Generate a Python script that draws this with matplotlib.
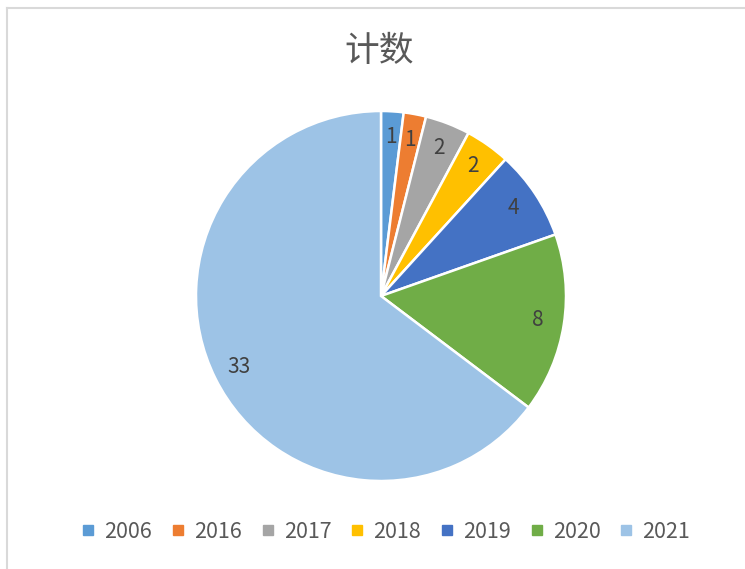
import matplotlib
matplotlib.use("Agg")
import matplotlib.pyplot as plt
from matplotlib.lines import Line2D

plt.rcParams['font.family'] = ['Noto Sans CJK SC', 'DejaVu Sans']

categories = ['2006', '2016', '2017', '2018', '2019', '2020', '2021']
counts = [1, 1, 2, 2, 4, 8, 33]
colors = ['#5B9BD5', '#ED7D31', '#A5A5A5', '#FFC000', '#4472C4', '#70AD47', '#9DC3E6']
title = '计数'

W, H = 745, 569
fig = plt.figure(figsize=(W / 100, H / 100), dpi=100)
fig.patch.set_facecolor('white')

# frame lines (left and top)
fig.add_artist(Line2D([7.5 / W, 7.5 / W], [0, 1 - 7.5 / H], transform=fig.transFigure,
                      color='#D9D9D9', lw=1.5))
fig.add_artist(Line2D([7.5 / W, 1], [1 - 7.5 / H, 1 - 7.5 / H], transform=fig.transFigure,
                      color='#D9D9D9', lw=1.5))

cx, cy, r = 381, 296, 185
ax = fig.add_axes([(cx - r) / W, (H - cy - r) / H, 2 * r / W, 2 * r / H])
total = sum(counts)
wedges, texts, autotexts = ax.pie(
    counts, colors=colors, startangle=90, counterclock=False,
    autopct=lambda p: f'{round(p * total / 100):d}', pctdistance=0.86,
    wedgeprops=dict(edgecolor='white', linewidth=1.8),
    textprops=dict(color='#404040', fontsize=15))
ax.set_xlim(-1, 1)
ax.set_ylim(-1, 1)
ax.set_aspect('equal')

fig.text(379 / W, 1 - 51 / H, title, ha='center', va='center', fontsize=25,
         fontweight='light', color='#595959')

handles = [Line2D([], [], marker='s', linestyle='none', markersize=6.5,
                  markerfacecolor=c, markeredgecolor=c) for c in colors]
fig.legend(handles, categories, loc='center', bbox_to_anchor=(386 / W, 1 - 532 / H),
           ncol=len(categories), frameon=False, fontsize=15.5, labelcolor='#595959',
           handlelength=0.6, handletextpad=0.45, columnspacing=0.9, borderaxespad=0)

fig.savefig('out.png', dpi=100, facecolor='white')
